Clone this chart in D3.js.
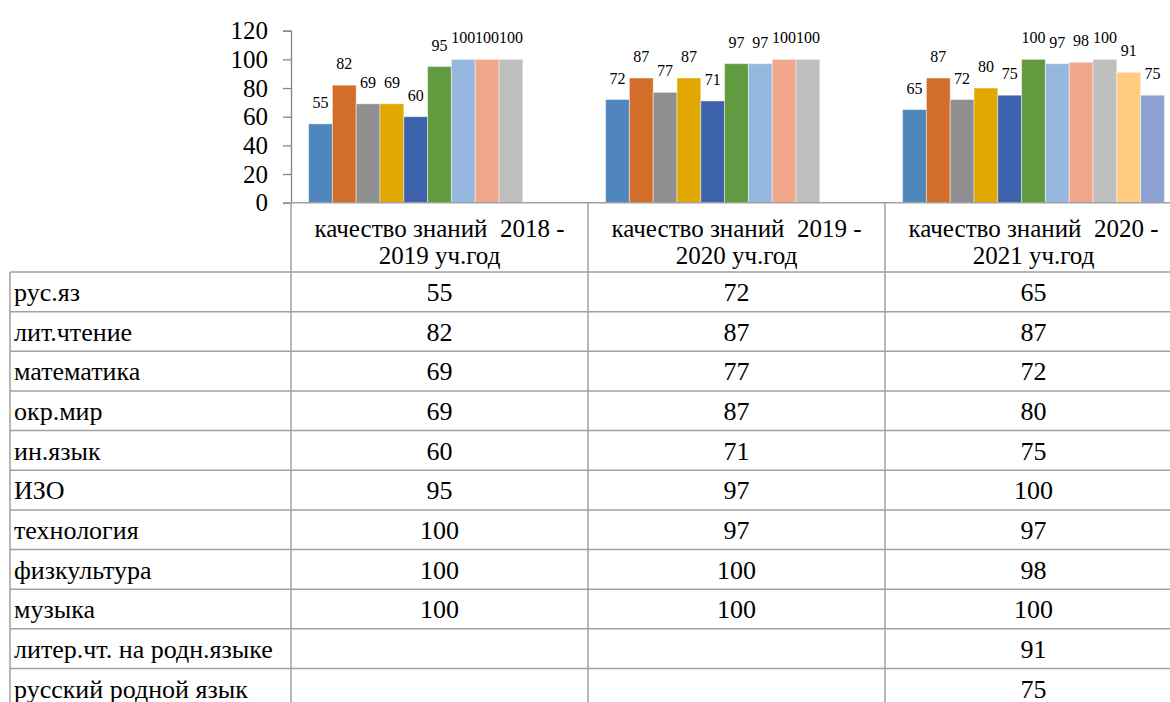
<!DOCTYPE html>
<html>
<head>
<meta charset="utf-8">
<script src="https://cdn.jsdelivr.net/npm/d3@7"></script>
</head>
<body style="margin:0">
<svg width="1170" height="702"></svg>
<script>
// data
var categories = ["качество знаний  2018 - 2019 уч.год", "качество знаний  2019 - 2020 уч.год", "качество знаний  2020 - 2021 уч.год"];
var subjects = ["рус.яз", "лит.чтение", "математика", "окр.мир", "ин.язык", "ИЗО", "технология", "физкультура", "музыка", "литер.чт. на родн.языке", "русский родной язык"];
var values2018 = [55, 82, 69, 69, 60, 95, 100, 100, 100, null, null];
var values2019 = [72, 87, 77, 87, 71, 97, 97, 100, 100, null, null];
var values2020 = [65, 87, 72, 80, 75, 100, 97, 98, 100, 91, 75];
var yTicks = [0, 20, 40, 60, 80, 100, 120];
var colors = ["#4f86bc", "#d36e2a", "#8f8f8f", "#e0a800", "#3b62ab", "#629a3f", "#97b8de", "#f0a78a", "#bfbfbf", "#ffcc80", "#8da1d2"];

var seriesByYear = [values2018, values2019, values2020];

var svg = d3.select("svg").style("font-family", "Liberation Serif");
var serif = "Liberation Serif";
var tableLeft = 10, colLeft = 291, colWidth = 297;
var headerTop = 202.7, headerBottom = 272, rowH = 39.65;
var lineColor = "#a0a0a0";

var x0 = d3.scaleBand().domain(categories).range([colLeft, colLeft + colWidth * categories.length]);
var x1 = d3.scaleBand().domain(subjects).range([17.6, colWidth - 17.6]);
var y = d3.scaleLinear().domain([0, 120]).range([headerTop, 30.7]);
var color = d3.scaleOrdinal().domain(subjects).range(colors);

// bars
var groups = svg.append("g").selectAll("g")
    .data(categories)
    .enter().append("g")
    .attr("transform", function (d) { return "translate(" + x0(d) + ",0)"; });

var bars = groups.selectAll("g")
    .data(function (d, i) {
        return subjects.map(function (s, j) { return {subject: s, value: seriesByYear[i][j]}; })
            .filter(function (e) { return e.value != null; });
    })
    .enter().append("g");

bars.append("rect")
    .attr("x", function (d) { return x1(d.subject); })
    .attr("y", function (d) { return y(d.value); })
    .attr("width", x1.bandwidth())
    .attr("height", function (d) { return y(0) - y(d.value); })
    .attr("fill", function (d) { return color(d.subject); })
    .attr("stroke", "rgba(255,255,255,0.45)")
    .attr("stroke-width", 1);

bars.append("text")
    .attr("x", function (d) { return x1(d.subject) + x1.bandwidth() / 2; })
    .attr("y", function (d) { return y(d.value) - 16; })
    .attr("text-anchor", "middle")
    .style("font-family", serif)
    .style("font-size", "16px")
    .attr("fill", "#000")
    .text(function (d) { return d.value; });

// y axis
var yAxis = svg.append("g")
    .attr("transform", "translate(" + colLeft + ",0)")
    .call(d3.axisLeft(y).tickValues(yTicks).tickSize(8).tickSizeOuter(8).tickPadding(15));
yAxis.attr("font-family", null);
yAxis.select(".domain").attr("stroke", "#868686").attr("stroke-width", 1.3);
yAxis.selectAll(".tick line").attr("stroke", "#868686").attr("stroke-width", 1.3);
yAxis.selectAll(".tick text")
    .style("font-family", serif)
    .style("font-size", "25px")
    .attr("fill", "#000")
    .attr("dy", "0.33em");

// data table grid
var tableRight = 1170;
var nRows = subjects.length;
var grid = svg.append("g").attr("stroke", lineColor).attr("stroke-width", 1.5);

grid.append("line")
    .attr("x1", colLeft).attr("x2", tableRight)
    .attr("y1", headerTop).attr("y2", headerTop);

d3.range(nRows + 1).forEach(function (i) {
    grid.append("line")
        .attr("x1", tableLeft).attr("x2", tableRight)
        .attr("y1", headerBottom + i * rowH).attr("y2", headerBottom + i * rowH);
});

grid.append("line")
    .attr("x1", tableLeft).attr("x2", tableLeft)
    .attr("y1", headerBottom).attr("y2", 702);

categories.forEach(function (c) {
    grid.append("line")
        .attr("x1", x0(c)).attr("x2", x0(c))
        .attr("y1", headerTop).attr("y2", 702);
});

// header labels, split after the dash into two lines
var header = svg.append("g");
categories.forEach(function (c) {
    var cut = c.indexOf("- ") + 1;
    var lines = [c.slice(0, cut), c.slice(cut + 1)];
    lines.forEach(function (t, k) {
        header.append("text")
            .attr("x", x0(c) + colWidth / 2)
            .attr("y", 237 + k * 27)
            .attr("text-anchor", "middle")
            .style("font-family", serif)
            .style("font-size", "25px")
            .style("white-space", "pre")
            .text(t);
    });
});

// row labels + values
var rows = svg.append("g");
subjects.forEach(function (s, j) {
    var base = headerBottom + j * rowH + 29;
    rows.append("text")
        .attr("x", 14)
        .attr("y", base)
        .style("font-family", serif)
        .style("font-size", "26px")
        .text(s);
    categories.forEach(function (c, i) {
        var v = seriesByYear[i][j];
        if (v == null) return;
        rows.append("text")
            .attr("x", x0(c) + colWidth / 2)
            .attr("y", base)
            .attr("text-anchor", "middle")
            .style("font-family", serif)
            .style("font-size", "26px")
            .text(v);
    });
});
</script>
</body>
</html>
